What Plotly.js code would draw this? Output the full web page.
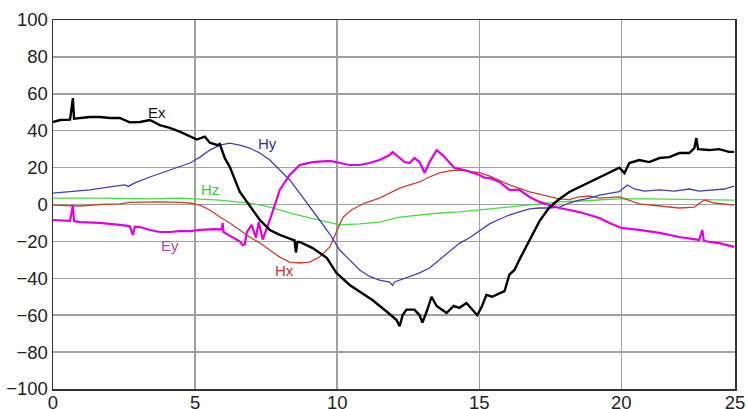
<!DOCTYPE html>
<html>
<head>
<meta charset="utf-8">
<script src="https://cdn.plot.ly/plotly-3.0.1.min.js"></script>
<style>html,body{margin:0;padding:0;background:#fff;}#chart{width:747px;height:409px;}</style>
</head>
<body>
<div id="chart"></div>
<script>
// Ex (black)
const exX = [0,0.25,0.6,0.7,0.74,0.95,1.3,1.65,2.0,2.35,2.7,3.06,3.41,3.76,4.11,4.46,4.82,5.06,5.34,5.52,5.8,5.87,6.05,6.22,6.57,6.92,7.28,7.63,7.98,8.33,8.5,8.55,8.6,8.68,9.14,9.64,9.97,10.44,10.79,11.24,11.74,12.09,12.2,12.3,12.44,12.72,12.9,13.0,13.15,13.32,13.5,13.85,14.1,14.3,14.55,14.75,14.93,15.1,15.25,15.45,15.71,15.89,16.06,16.24,16.41,16.59,16.77,17.12,17.47,17.82,18.17,18.52,18.88,19.23,19.58,19.93,20.11,20.28,20.63,20.98,21.34,21.69,22.04,22.39,22.57,22.64,22.7,23.09,23.44,23.79,23.97];
const exY = [44.7,45.8,46,57.7,46.5,46.9,47.4,47.4,46.9,46.9,44.5,44.7,45.8,43,41.5,39.5,36.8,35.2,36.8,33.5,32.2,32.8,25,20.5,7,-0.3,-8.4,-13.8,-16.5,-18.5,-19.5,-26,-20.3,-20.3,-23.6,-29,-37,-43.6,-47,-51.8,-58,-62.6,-66,-60,-57,-57,-60,-64,-58,-50,-55,-58.8,-55,-56,-53.4,-57,-60,-55,-49,-50,-48,-47,-38,-35.5,-30,-24.7,-20,-9,-1.5,3,6.8,9.5,12.2,14.9,17.6,20,17,22.5,24.1,23,25.2,25.7,27.9,27.9,30.6,36,30,29.5,30,28.5,28.5];

// Hy (blue)
const hyX = [0,0.6,1.3,2.0,2.53,2.65,2.88,3.41,3.94,4.46,4.82,5.17,5.52,5.87,6.22,6.57,6.92,7.28,7.63,7.98,8.33,8.68,9.03,9.38,9.74,10.09,10.44,10.79,11.14,11.49,11.85,11.95,12.02,12.2,12.55,12.9,13.25,13.6,13.95,14.31,14.66,15.01,15.36,15.71,16.06,16.41,16.77,17.12,17.47,17.82,18.17,18.52,18.88,19.23,19.58,19.93,20.21,20.46,20.81,21.34,21.86,22.39,22.74,23.27,23.62,23.97];
const hyY = [6.2,6.8,7.9,9.5,10.6,9.8,11.7,14.9,17.6,20.3,22.5,25.7,29.5,32.2,33.3,32.2,30.6,27.9,24.1,18.7,13.3,6.2,-1.4,-8.4,-16,-24.7,-30,-35.5,-39,-41,-42,-43.8,-42,-41,-39.3,-37.1,-34.4,-30,-25.7,-20.9,-18,-14,-10.5,-8,-5.7,-4,-2.4,-1.9,-1.9,-1.4,0.8,2.4,3.5,5.1,6.2,7,10.6,8.4,7.3,7.9,7.3,8.4,7.3,7.9,8.4,10];

// Hz (green)
const hzX = [0,1.65,3.41,4.46,5.87,6.92,7.63,8.33,9.03,9.74,10.09,10.79,11.49,12.2,12.9,13.6,14.31,15.01,15.71,16.41,17.12,17.82,18.52,19.23,19.93,20.98,22.04,23.97];
const hzY = [3.5,3.5,3,3.5,2.4,0.8,-1.4,-4.6,-7.3,-10,-11,-10.5,-9.5,-6.8,-5.7,-4.6,-4,-3,-1.9,-0.8,0.3,1.4,1.9,2.4,3,3,2.8,2.4];

// Hx (red)
const hxX = [0,0.95,1.65,2.35,2.7,3.06,3.76,4.46,4.82,5.17,5.52,5.87,6.22,6.57,6.92,7.28,7.63,7.98,8.33,8.68,9.03,9.38,9.74,10.0,10.2,10.5,10.97,11.49,11.85,12.2,12.55,12.9,13.25,13.6,13.95,14.31,14.66,15.01,15.36,16.06,16.77,17.47,17.82,18.17,18.52,18.88,19.23,19.93,20.28,20.63,21.34,22.04,22.57,22.92,23.27,23.97];
const hxY = [-0.3,-0.8,0,0.3,1.2,1.4,1.4,1.2,0.8,-0.3,-3,-6.8,-10,-13.8,-17.6,-20.9,-24.7,-28.5,-31.2,-31.7,-31.2,-28.5,-23,-14,-7,-3,0.8,3.5,6.2,8.9,10.6,12.2,14.9,17.1,18.2,18.7,17.9,17.3,15.5,10.6,6.8,4.1,3,2.6,4.1,4.6,3.5,4.1,2.4,0.3,-0.8,-1.9,-1.4,2.4,0.8,-0.3];

// Ey (magenta)
const eyX = [0,0.6,0.7,0.74,0.95,1.65,2.35,2.7,2.81,2.88,3.06,3.41,3.76,4.11,4.46,4.82,5.17,5.69,5.94,5.97,6.0,6.22,6.57,6.68,6.75,6.82,6.99,7.14,7.24,7.38,7.63,7.98,8.33,8.68,9.14,9.74,10.09,10.44,10.79,11.14,11.49,11.85,11.95,12.2,12.37,12.55,12.72,12.9,13.08,13.25,13.5,13.71,13.88,14.13,14.48,14.83,15.01,15.18,15.36,15.71,16.06,16.41,16.77,17.12,17.47,17.82,18.17,18.52,18.88,19.23,19.58,20.0,20.63,21.34,22.04,22.39,22.74,22.85,22.9,23.09,23.44,23.97];
const eyY = [-8.4,-8.9,-0.3,-9,-9.5,-10,-11,-11.7,-16.5,-12,-12.2,-13.8,-14.9,-14.9,-14.4,-14.4,-13.8,-13.3,-13.5,-10,-15,-17,-20,-22,-21.5,-15,-11,-18,-9.5,-19,-8.4,7.9,16,21.4,23,23.6,22.5,21.4,21.4,22.5,24.1,26.8,28.5,25.2,23,22.5,25.2,23,17.1,23,29.5,26.8,24.1,19.8,18.7,17.1,16,14.6,14.4,12.2,7.9,7.9,4.1,1.4,-0.3,-1.9,-3,-4.1,-5.7,-7.3,-10,-12.7,-13.8,-15.4,-17.6,-18.2,-19.2,-13.8,-19.5,-20.3,-20.9,-23];

const xTickVals = [0,5,10,15,20,24];
const xTickText = ['0','5','10','15','20','25'];
const yTickVals = [-100,-80,-60,-40,-20,0,20,40,60,80,100];

const labelNames = ['Ex','Hy','Hz','Ey','Hx'];
const labelX = [3.66,7.56,5.52,4.11,8.15];
const labelY = [50.1,33.3,8.4,-22,-36];
const labelColors = ['#111111','#3333aa','#33cc33','#c040a0','#d03030'];

const traces = [
  {x: hzX, y: hzY, mode:'lines', line:{color:'#44dd44', width:1.3}},
  {x: hxX, y: hxY, mode:'lines', line:{color:'#c84030', width:1.3}},
  {x: hyX, y: hyY, mode:'lines', line:{color:'#4040b0', width:1.3}},
  {x: eyX, y: eyY, mode:'lines', line:{color:'#e000e0', width:2.2}},
  {x: exX, y: exY, mode:'lines', line:{color:'#000000', width:2.4}}
];

const annotations = labelNames.map((t,i)=>({
  x: labelX[i], y: labelY[i], xref:'x', yref:'y', text: t, showarrow:false,
  font:{family:'Liberation Sans, Arial, sans-serif', size:15, color: labelColors[i]}
}));

const layout = {
  width:747, height:409,
  margin:{l:53, r:12, t:20, b:20, pad:0},
  paper_bgcolor:'#ffffff', plot_bgcolor:'#ffffff',
  showlegend:false,
  font:{family:'Liberation Sans, Arial, sans-serif', size:18.5, color:'#222'},
  xaxis:{range:[0,24], tickvals:xTickVals, ticktext:xTickText, showgrid:true, gridcolor:'#a0a0a0', gridwidth:1.5,
         zeroline:false, showline:true, mirror:true, linecolor:'#333', linewidth:1.5, ticks:'', ticklabelstandoff:-4, fixedrange:true},
  yaxis:{range:[-100,100], tickvals:yTickVals, showgrid:true, gridcolor:'#a0a0a0', gridwidth:1.5,
         zeroline:false, showline:true, mirror:true, linecolor:'#333', linewidth:1.5, ticks:'', fixedrange:true},
  annotations: annotations
};

Plotly.newPlot('chart', traces, layout, {displayModeBar:false, staticPlot:true});
</script>
</body>
</html>
